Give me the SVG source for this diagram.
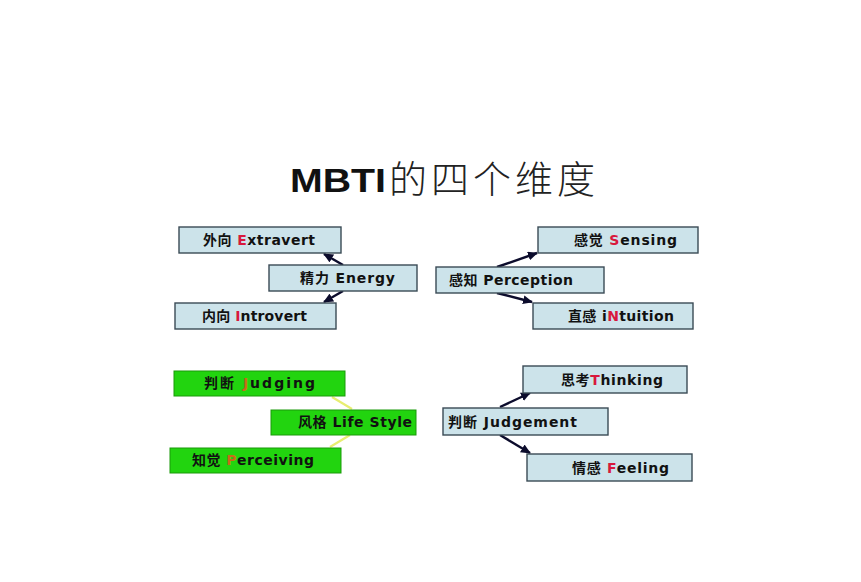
<svg xmlns="http://www.w3.org/2000/svg" width="861" height="582" viewBox="0 0 861 582">
<style>
.bx{fill:#cce3ea;stroke:#3a4a55;stroke-width:1.4}
.gb{fill:#22d40f;stroke:#1a9a0a;stroke-width:1}
.t{font-family:"DejaVu Sans","Noto Sans CJK SC",sans-serif;font-size:14px;font-weight:bold;fill:#111}
.r{fill:#d8183c}
.o{fill:#c86a18}
.ar{stroke:#0c0c2c;stroke-width:2.4;fill:none;marker-end:url(#ah)}
.yl{stroke:#e8ee70;stroke-width:2.2;fill:none}
</style>
<defs>
<marker id="ah" markerWidth="10" markerHeight="9" refX="9" refY="4.5" orient="auto" markerUnits="userSpaceOnUse" viewBox="0 0 10 9">
<path d="M0,0 L10,4.5 L0,9 Z" fill="#0c0c2c"/>
</marker>
</defs>
<rect width="861" height="582" fill="#ffffff"/>
<g id="title">
<text x="290" y="192" font-family="Liberation Sans,Arial,sans-serif" font-size="34" font-weight="bold" fill="#111" textLength="96" lengthAdjust="spacingAndGlyphs">MBTI</text>
<text x="389" y="193" font-family="Noto Sans CJK SC,sans-serif" font-size="38" font-weight="300" fill="#222" textLength="206" lengthAdjust="spacing">的四个维度</text>
</g>
<g id="connectors">
<line class="ar" x1="343" y1="265" x2="324" y2="254"/>
<line class="ar" x1="343" y1="291" x2="324" y2="302"/>
<line class="ar" x1="497" y1="267" x2="537" y2="253"/>
<line class="ar" x1="497" y1="293" x2="532" y2="302"/>
<line class="yl" x1="332" y1="397" x2="352" y2="409"/>
<line class="yl" x1="350" y1="435" x2="330" y2="447"/>
<line class="ar" x1="500" y1="407" x2="530" y2="393"/>
<line class="ar" x1="500" y1="435" x2="530" y2="453"/>
</g>
<g id="extravert">
<rect class="bx" x="179" y="227" width="162" height="26"/>
<text class="t" x="203" y="245" textLength="112" lengthAdjust="spacing">外向 <tspan class="r">E</tspan>xtravert</text>
</g>
<g id="energy">
<rect class="bx" x="269" y="265" width="148" height="26"/>
<text class="t" x="300" y="283" textLength="95" lengthAdjust="spacing">精力 Energy</text>
</g>
<g id="introvert">
<rect class="bx" x="175" y="303" width="161" height="26"/>
<text class="t" x="202" y="321" textLength="105" lengthAdjust="spacing">内向 <tspan class="r">I</tspan>ntrovert</text>
</g>
<g id="sensing">
<rect class="bx" x="538" y="227" width="160" height="26"/>
<text class="t" x="574" y="245" textLength="103" lengthAdjust="spacing">感觉 <tspan class="r">S</tspan>ensing</text>
</g>
<g id="perception">
<rect class="bx" x="436" y="267" width="168" height="26"/>
<text class="t" x="449" y="285" textLength="124" lengthAdjust="spacing">感知 Perception</text>
</g>
<g id="intuition">
<rect class="bx" x="533" y="303" width="160" height="26"/>
<text class="t" x="568" y="321" textLength="106" lengthAdjust="spacing">直感 i<tspan class="r">N</tspan>tuition</text>
</g>
<g id="judging">
<rect class="gb" x="174" y="371" width="171" height="25"/>
<text class="t" x="204" y="388" textLength="111" lengthAdjust="spacing">判断  <tspan class="o">J</tspan>udging</text>
</g>
<g id="lifestyle">
<rect class="gb" x="271" y="410" width="145" height="25"/>
<text class="t" x="298" y="427" textLength="114" lengthAdjust="spacing">风格 Life Style</text>
</g>
<g id="perceiving">
<rect class="gb" x="170" y="448" width="171" height="25"/>
<text class="t" x="192" y="465" textLength="122" lengthAdjust="spacing">知觉 <tspan class="o">P</tspan>erceiving</text>
</g>
<g id="thinking">
<rect class="bx" x="523" y="366" width="164" height="27"/>
<text class="t" x="561" y="385" textLength="102" lengthAdjust="spacing">思考<tspan class="r">T</tspan>hinking</text>
</g>
<g id="judgement">
<rect class="bx" x="443" y="408" width="165" height="27"/>
<text class="t" x="448" y="427" textLength="129" lengthAdjust="spacing">判断 Judgement</text>
</g>
<g id="feeling">
<rect class="bx" x="527" y="454" width="165" height="27"/>
<text class="t" x="572" y="473" textLength="97" lengthAdjust="spacing">情感 <tspan class="r">F</tspan>eeling</text>
</g>
</svg>
